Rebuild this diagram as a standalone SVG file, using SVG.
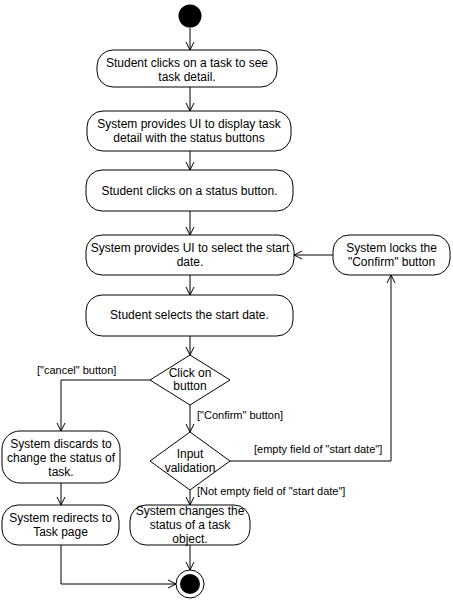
<svg xmlns="http://www.w3.org/2000/svg" width="453" height="601" viewBox="0 0 453 601">
<style>
.n{fill:#fff;stroke:#000;stroke-width:1}
.t{font-family:"Liberation Sans",Arial,sans-serif;font-size:12px;fill:#000;text-anchor:middle}
.l{font-family:"Liberation Sans",Arial,sans-serif;font-size:11px;fill:#000}
.c{fill:none;stroke:#000;stroke-width:1;marker-end:url(#a)}
</style>
<defs>
<marker id="a" markerUnits="userSpaceOnUse" markerWidth="12" markerHeight="12" refX="9" refY="5" orient="auto">
<path d="M1,1 L9,5 L1,9" fill="none" stroke="#000" stroke-width="1"/>
</marker>
</defs>
<rect width="453" height="601" fill="#fff"/>
<g id="connectors">
<path class="c" d="M190,28 V50"/>
<path class="c" d="M190,87 V111"/>
<path class="c" d="M190,151 V170"/>
<path class="c" d="M190,211 V235"/>
<path class="c" d="M190,275 V295"/>
<path class="c" d="M190,336 V355"/>
<path class="c" d="M150,380 H61 V431"/>
<path class="c" d="M190,405 V432"/>
<path class="c" d="M230,461 H391 V275"/>
<path class="c" d="M333,255 H294"/>
<path class="c" d="M190,490 V505"/>
<path class="c" d="M61,483 V505"/>
<path class="c" d="M61,545 V584 H176"/>
<path class="c" d="M190,545 V570"/>
<text class="l" x="37" y="374">["cancel" button]</text>
<text class="l" x="197" y="419">["Confirm" button]</text>
<text class="l" x="254" y="453">[empty field of "start date"]</text>
<text class="l" x="197" y="495">[Not empty field of "start date"]</text>
</g>
<g id="start"><circle cx="190" cy="16" r="11.5" fill="#000"/></g>
<g id="n1"><rect class="n" x="97" y="50" width="180" height="37" rx="16"/>
<text class="t" x="187" y="67">Student clicks on a task to see</text><text class="t" x="187" y="81">task detail.</text></g>
<g id="n2"><rect class="n" x="87" y="111" width="204" height="40" rx="16"/>
<text class="t" x="189" y="128">System provides UI to display task</text><text class="t" x="189" y="142">detail with the status buttons</text></g>
<g id="n3"><rect class="n" x="86" y="170" width="207" height="41" rx="16"/>
<text class="t" x="189.5" y="195">Student clicks on a status button.</text></g>
<g id="n4"><rect class="n" x="86" y="235" width="208" height="40" rx="16"/>
<text class="t" x="190" y="252">System provides UI to select the start</text><text class="t" x="190" y="266">date.</text></g>
<g id="n5"><rect class="n" x="86" y="295" width="207" height="41" rx="16"/>
<text class="t" x="189.5" y="319">Student selects the start date.</text></g>
<g id="n6"><rect class="n" x="333" y="235" width="117" height="40" rx="16"/>
<text class="t" x="391.5" y="252">System locks the</text><text class="t" x="391.5" y="266">"Confirm" button</text></g>
<g id="d1"><path class="n" d="M190,355 L230,380 L190,405 L150,380 Z"/>
<text class="t" x="190" y="377">Click on</text><text class="t" x="190" y="390">button</text></g>
<g id="d2"><path class="n" d="M190,432 L230,461 L190,490 L150,461 Z"/>
<text class="t" x="190" y="458">Input</text><text class="t" x="190" y="472">validation</text></g>
<g id="n7"><rect class="n" x="2" y="431" width="118" height="52" rx="18"/>
<text class="t" x="61" y="448">System discards to</text><text class="t" x="61" y="462">change the status of</text><text class="t" x="61" y="476">task.</text></g>
<g id="n8"><rect class="n" x="2" y="505" width="117" height="40" rx="16"/>
<text class="t" x="60.5" y="522">System redirects to</text><text class="t" x="60.5" y="536">Task page</text></g>
<g id="n9"><rect class="n" x="130" y="505" width="120" height="40" rx="16"/>
<text class="t" x="190" y="515">System changes the</text><text class="t" x="190" y="529">status of a task</text><text class="t" x="190" y="543">object.</text></g>
<g id="end"><circle cx="190" cy="584" r="14" fill="#fff" stroke="#000"/><circle cx="190" cy="584" r="10" fill="#000"/></g>
</svg>
